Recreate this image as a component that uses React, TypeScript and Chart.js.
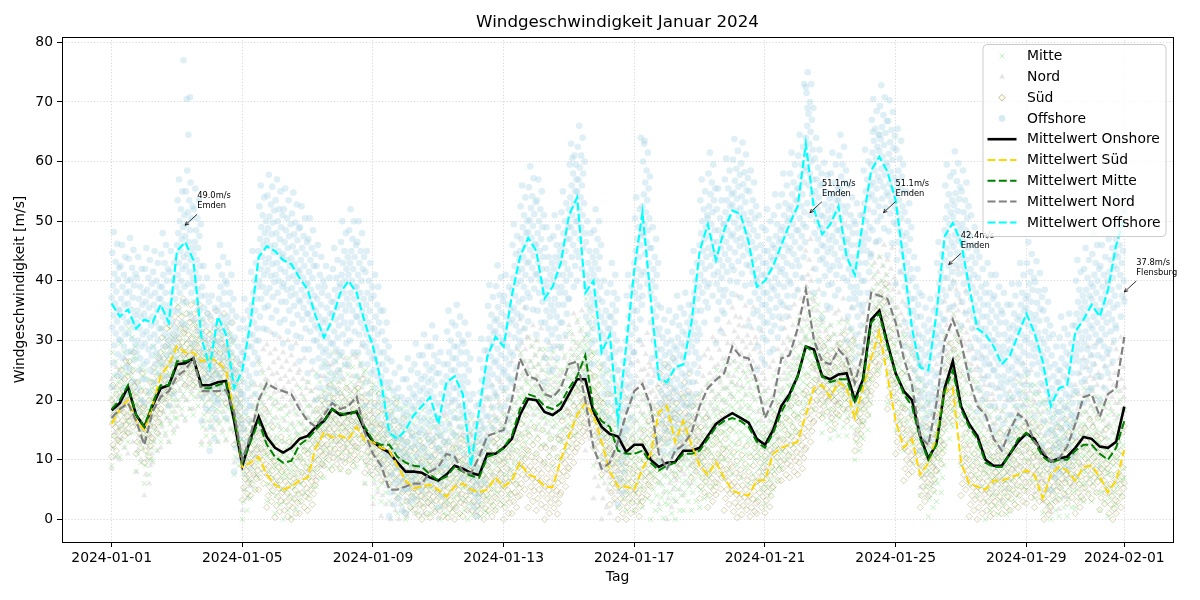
import { useEffect, useRef } from "react";
import { Chart, registerables } from "chart.js";

Chart.register(...registerables);

const FONT = '"DejaVu Sans", "Liberation Sans", sans-serif';
const START_MS = Date.UTC(2024, 0, 1);
const STEPS_PER_DAY = 4; // 6-hour resolution

// Regional means [m/s], 6-hourly from 2024-01-01 00:00 to 2024-02-01 00:00
const mittelwertOnshore = [
  18.3, 19.5, 22.2, 17.5, 15.5, 19.0, 22.0, 22.5, 26.0, 26.2, 27.0, 22.5,
  22.5, 23.0, 23.2, 16.5, 9.0, 13.5, 17.2, 13.8, 12.0, 11.2, 12.0, 13.5,
  14.0, 15.5, 16.5, 18.5, 17.5, 17.8, 18.0, 15.0, 13.0, 12.0, 11.2, 9.5,
  8.0, 8.0, 7.8, 7.0, 6.5, 7.5, 9.0, 8.5, 7.8, 7.4, 11.0, 11.0,
  12.0, 13.5, 17.5, 20.2, 20.0, 18.0, 17.5, 18.5, 21.0, 23.5, 23.5, 18.0,
  15.5, 14.3, 13.9, 11.3, 12.5, 12.5, 10.0, 8.8, 9.5, 9.6, 11.5, 11.5,
  12.0, 14.0, 16.0, 17.0, 17.8, 17.0, 16.2, 13.5, 12.5, 15.0, 19.0, 21.0,
  24.0, 29.0, 28.5, 24.0, 23.5, 24.3, 24.5, 20.0, 23.5, 33.5, 35.0, 29.5,
  24.5, 21.5, 20.0, 14.0, 10.2, 12.7, 22.0, 26.5, 19.0, 16.0, 14.0, 10.0,
  9.0, 9.0, 11.0, 13.0, 14.4, 13.5, 11.0, 9.7, 10.2, 10.5, 12.0, 13.8,
  13.5, 12.2, 12.0, 13.0, 18.9,
];

const mittelwertSued = [
  16.0, 18.5, 20.0, 16.5, 15.0, 19.0, 24.0, 26.0, 29.0, 28.0, 28.0, 26.5,
  27.0, 26.5, 25.0, 18.0, 8.8, 9.5, 10.5, 7.5, 5.8, 5.0, 5.5, 6.5,
  7.0, 12.0, 14.5, 13.8, 14.0, 13.5, 15.5, 13.3, 13.0, 12.0, 11.5, 9.0,
  6.5, 5.2, 5.5, 5.8, 5.0, 3.8, 5.5, 6.0, 5.0, 4.5, 5.0, 7.0,
  5.5, 6.5, 9.5, 7.5, 7.0, 5.5, 5.4, 10.0, 14.0, 17.5, 19.5, 17.5,
  13.0, 8.0, 5.5, 5.5, 5.0, 8.5, 11.0, 18.0, 19.0, 13.0, 16.5, 12.5,
  9.0, 7.5, 9.6, 7.0, 4.8, 4.3, 4.0, 6.5, 6.6, 11.0, 12.0, 12.5,
  13.0, 17.5, 22.0, 22.5, 20.5, 23.0, 22.0, 17.0, 22.0, 27.0, 31.5, 24.0,
  16.5, 12.0, 13.5, 7.5, 9.4, 13.8, 21.5, 22.0, 9.5, 6.0, 5.5, 5.0,
  6.5, 6.5, 7.0, 7.5, 8.2, 7.5, 3.5, 7.5, 8.8, 8.2, 6.5, 8.8,
  9.0, 7.1, 4.5, 6.5, 11.6,
];

const mittelwertMitte = [
  18.5, 20.0, 22.5, 17.5, 15.5, 19.5, 22.5, 22.5, 26.5, 26.5, 27.0, 22.0,
  22.0, 22.5, 23.0, 17.0, 9.5, 13.0, 16.5, 12.5, 10.5, 9.5, 9.8, 12.5,
  13.5, 15.0, 16.5, 18.5, 17.8, 17.5, 18.2, 15.5, 13.2, 12.5, 12.5, 10.5,
  9.5, 9.0, 8.8, 7.5, 6.5, 7.2, 8.8, 8.0, 7.3, 7.0, 10.5, 11.0,
  12.0, 14.0, 18.5, 21.0, 20.5, 19.0, 18.5, 19.5, 22.0, 24.0, 27.5, 18.5,
  16.5, 15.5, 11.5, 11.0, 11.0, 11.5, 9.5, 8.2, 9.0, 9.5, 11.0, 11.0,
  11.5, 13.5, 15.5, 16.5, 17.0, 16.5, 15.5, 13.0, 12.0, 14.5, 18.0, 20.5,
  24.0, 29.0, 28.0, 24.0, 23.0, 23.5, 23.5, 19.5, 23.0, 33.0, 34.5, 29.0,
  24.5, 21.0, 19.0, 13.5, 10.0, 12.5, 21.5, 25.0, 18.5, 15.5, 13.5, 9.5,
  8.8, 8.8, 11.0, 13.5, 14.5, 13.0, 10.5, 9.5, 10.0, 10.0, 11.5, 12.5,
  12.5, 11.0, 10.0, 12.0, 16.5,
];

const mittelwertNord = [
  17.0, 18.5, 19.5, 16.5, 12.5, 18.0, 20.5, 21.5, 24.0, 25.0, 27.0, 21.5,
  21.5, 21.5, 21.7, 18.0, 10.0, 14.0, 20.0, 22.8, 22.0, 21.5, 21.0, 18.5,
  16.5, 15.5, 17.5, 19.5, 18.5, 19.0, 20.6, 14.5, 11.0, 9.0, 5.0, 5.0,
  5.5, 6.0, 6.0, 8.0, 8.8, 11.0, 10.5, 8.0, 7.7, 10.5, 14.0, 14.5,
  15.0, 20.0, 27.0, 24.0, 23.5, 21.0, 20.5, 22.0, 26.0, 26.5, 20.0, 12.0,
  8.5, 9.5, 13.0, 17.7, 21.5, 22.7, 19.0, 11.0, 8.5, 11.5, 12.5, 14.5,
  19.0, 22.0, 23.4, 24.5, 29.0, 27.3, 27.0, 23.0, 17.0, 20.0, 27.0, 27.5,
  32.0, 38.5, 30.0, 26.5, 26.0, 28.5, 27.0, 22.8, 28.0, 38.0, 37.5, 37.0,
  33.0, 27.0, 22.5, 13.8, 12.5, 19.5, 30.0, 33.5, 29.8, 23.5, 19.0, 17.5,
  13.5, 11.5, 15.0, 17.7, 16.5, 13.0, 11.5, 9.7, 10.2, 12.2, 16.0, 20.5,
  21.0, 17.2, 21.0, 22.0, 30.6,
];

const mittelwertOffshore = [
  36.2, 34.0, 35.2, 32.0, 33.5, 33.0, 36.0, 33.0, 45.0, 46.5, 43.5, 30.5,
  25.5, 34.0, 31.0, 22.0, 25.0, 33.0, 44.0, 45.8, 45.0, 43.5, 42.8, 40.5,
  38.5, 34.0, 30.5, 33.5, 38.0, 40.0, 38.0, 33.0, 29.0, 23.0, 14.5, 13.5,
  15.0, 17.5, 19.0, 20.5, 16.0, 23.0, 24.0, 21.0, 9.0, 18.3, 27.3, 30.6,
  29.0, 37.5, 44.0, 47.2, 45.0, 37.0, 39.0, 43.0, 51.0, 54.0, 38.0, 40.0,
  28.0, 31.0, 16.5, 29.0, 42.0, 51.5, 37.0, 23.5, 23.0, 25.5, 26.0, 33.0,
  45.0, 49.5, 43.5, 48.5, 51.8, 51.2, 46.5, 39.0, 40.0, 42.5, 46.0, 49.5,
  52.5, 63.0, 52.0, 47.8, 49.5, 52.5, 44.0, 41.0, 50.0, 58.5, 60.8, 58.3,
  53.5, 43.0, 32.0, 25.5, 25.0, 34.5, 47.5, 49.7, 46.5, 39.0, 32.0, 31.0,
  29.0, 26.0, 27.5, 31.0, 34.5, 31.3, 26.5, 19.0, 22.0, 22.5, 31.5, 33.5,
  36.0, 34.0, 38.5, 46.0, 50.5,
];

// Station deviations from their regional mean [m/s]
const abweichungMitte = [
  -9.5, -8, -6.5, -5.5, -4.5, -3.5, -2.5, -1.8, -1, -0.3,
  0.4, 1.1, 1.8, 2.6, 3.5, 4.5, 5.5, 6.5, 8, 9.5,
];
const abweichungNord = [-8.5, -6.5, -5, -3.5, -2.5, -1.5, -0.5, 0.5, 1.5, 2.5, 3.5, 5, 6.5, 8.5];
const abweichungSued = [-5.5, -4.5, -3.5, -2.7, -2, -1.3, -0.6, 0, 0.7, 1.4, 2.2, 3, 4, 5, 6.5, 8];
const abweichungOffshore = [
  -14, -12, -10, -8.5, -7, -6, -5, -4, -3, -2, -1, 0,
  1, 2, 3, 4, 5, 6, 7, 8.5, 10, 12,
];

// Single offshore gusts well above the cloud [day, m/s]
const offshoreSpitzenTag = [2.2, 2.3, 2.4, 2.35, 14.1, 14.2, 16.2, 16.3, 21.2, 21.25, 21.3, 23.3, 23.5];
const offshoreSpitzenWert = [77.0, 70.5, 70.8, 64.5, 60.6, 59.5, 64.0, 63.0, 73.0, 72.5, 69.0, 65.0, 64.5];

// Annotated station maxima
const maxTag = [2.25, 21.375, 23.625, 25.625, 31.0];
const maxWert = [49.0, 51.1, 51.1, 42.4, 37.8];
const maxStation = ["Emden", "Emden", "Emden", "Emden", "Flensburg"];

const xTickTage = [0, 4, 8, 12, 16, 20, 24, 28, 31];
const yTickWerte = [0, 10, 20, 30, 40, 50, 60, 70, 80];

const zeiten = mittelwertOnshore.map((_, i) => i / STEPS_PER_DAY);

const alsLinie = (werte: number[]) => werte.map((y, i) => ({ x: zeiten[i], y }));

// each station reports at its own half-hour slot within the 6-hour step
function stationsWolke(mittel: number[], abweichung: number[]) {
  const punkte: { x: number; y: number }[] = [];
  abweichung.forEach((off, k) => {
    const versatz = ((k * 7) % 12) / 48;
    mittel.forEach((m, i) => {
      const x = zeiten[i] + versatz;
      const y = m + off;
      if (x <= 31 && y >= 0) punkte.push({ x, y });
    });
  });
  return punkte;
}

const tagLabel = (d: number) =>
  new Date(START_MS + Math.round(d * 86400000)).toISOString().slice(0, 10);

type Style = {
  kind: "point" | "line";
  pointStyle?: string;
  fill?: string;
  stroke?: string;
  strokeWidth?: number;
  color?: string;
  width?: number;
  dash?: number[];
};

function markerPath(ctx: CanvasRenderingContext2D, style: string, x: number, y: number, r: number) {
  ctx.beginPath();
  if (style === "circle") {
    ctx.arc(x, y, r, 0, Math.PI * 2);
  } else if (style === "triangle") {
    ctx.moveTo(x, y - r);
    ctx.lineTo(x + r * 0.87, y + r * 0.5);
    ctx.lineTo(x - r * 0.87, y + r * 0.5);
    ctx.closePath();
  } else if (style === "rectRot") {
    ctx.moveTo(x, y - r);
    ctx.lineTo(x + r, y);
    ctx.lineTo(x, y + r);
    ctx.lineTo(x - r, y);
    ctx.closePath();
  } else if (style === "crossRot") {
    const d = r * 0.75;
    ctx.moveTo(x - d, y - d);
    ctx.lineTo(x + d, y + d);
    ctx.moveTo(x + d, y - d);
    ctx.lineTo(x - d, y + d);
  }
}

const legendeEintraege: { label: string; style: Style }[] = [
  { label: "Mitte", style: { kind: "point", pointStyle: "crossRot", stroke: "rgba(144,238,144,0.6)", strokeWidth: 1 } },
  { label: "Nord", style: { kind: "point", pointStyle: "triangle", fill: "rgba(211,211,211,0.6)" } },
  { label: "Süd", style: { kind: "point", pointStyle: "rectRot", fill: "rgba(255,250,205,0.6)", stroke: "rgba(105,105,80,0.55)", strokeWidth: 0.8 } },
  { label: "Offshore", style: { kind: "point", pointStyle: "circle", fill: "rgba(173,216,230,0.5)" } },
  { label: "Mittelwert Onshore", style: { kind: "line", color: "#000000", width: 2.6 } },
  { label: "Mittelwert Süd", style: { kind: "line", color: "#FFD700", width: 2, dash: [8, 3.3] } },
  { label: "Mittelwert Mitte", style: { kind: "line", color: "#008000", width: 2, dash: [8, 3.3] } },
  { label: "Mittelwert Nord", style: { kind: "line", color: "#808080", width: 2, dash: [8, 3.3] } },
  { label: "Mittelwert Offshore", style: { kind: "line", color: "#00FFFF", width: 2, dash: [8, 3.3] } },
];

const overlayPlugin = {
  id: "overlay",
  afterDatasetsDraw(chart: any) {
    const { ctx, chartArea: a, scales } = chart;
    ctx.save();

    // station maxima with arrows
    ctx.font = `8.3px ${FONT}`;
    ctx.fillStyle = "#000";
    ctx.strokeStyle = "#000";
    ctx.textAlign = "left";
    ctx.textBaseline = "middle";
    maxTag.forEach((d, i) => {
      const px = scales.x.getPixelForValue(d);
      const py = scales.y.getPixelForValue(maxWert[i]) - 2;
      const sx = px + 12;
      const sy = py - 11;
      ctx.lineWidth = 0.8;
      ctx.beginPath();
      ctx.moveTo(sx, sy);
      ctx.lineTo(px, py);
      const ang = Math.atan2(py - sy, px - sx);
      const h = 4;
      ctx.moveTo(px, py);
      ctx.lineTo(px - h * Math.cos(ang - 0.45), py - h * Math.sin(ang - 0.45));
      ctx.moveTo(px, py);
      ctx.lineTo(px - h * Math.cos(ang + 0.45), py - h * Math.sin(ang + 0.45));
      ctx.stroke();
      ctx.fillText(`${maxWert[i].toFixed(1)}m/s`, px + 12, py - 29);
      ctx.fillText(maxStation[i], px + 12, py - 19);
    });

    // axes frame
    ctx.setLineDash([]);
    ctx.lineWidth = 1;
    ctx.strokeStyle = "#000";
    const l = Math.round(a.left) + 0.5;
    const t = Math.round(a.top) + 0.5;
    const r = Math.round(a.right) + 0.5;
    const b = Math.round(a.bottom) + 0.5;
    ctx.strokeRect(l, t, r - l, b - t);

    // legend
    const bw = 183;
    const bh = 192;
    const bx = a.right - 7 - bw;
    const by = a.top + 7.5;
    ctx.beginPath();
    ctx.roundRect(bx, by, bw, bh, 4);
    ctx.fillStyle = "rgba(255,255,255,0.8)";
    ctx.fill();
    ctx.strokeStyle = "#cccccc";
    ctx.lineWidth = 1;
    ctx.stroke();

    ctx.font = `13.9px ${FONT}`;
    ctx.textAlign = "left";
    ctx.textBaseline = "middle";
    legendeEintraege.forEach((e, i) => {
      const cy = by + 11.5 + i * 20.8;
      const s = e.style;
      if (s.kind === "line") {
        ctx.beginPath();
        ctx.setLineDash(s.dash || []);
        ctx.strokeStyle = s.color!;
        ctx.lineWidth = s.width!;
        ctx.moveTo(bx + 4.5, cy);
        ctx.lineTo(bx + 33.5, cy);
        ctx.stroke();
        ctx.setLineDash([]);
      } else {
        markerPath(ctx, s.pointStyle!, bx + 19, cy, 3.3);
        if (s.fill) {
          ctx.fillStyle = s.fill;
          ctx.fill();
        }
        if (s.stroke) {
          ctx.strokeStyle = s.stroke;
          ctx.lineWidth = s.strokeWidth || 1;
          ctx.stroke();
        }
      }
      ctx.fillStyle = "#000";
      ctx.fillText(e.label, bx + 44, cy + 0.5);
    });

    ctx.restore();
  },
  afterDraw(chart: any) {
    const { ctx, chartArea: a } = chart;
    ctx.save();
    ctx.fillStyle = "#000";
    ctx.textAlign = "center";
    ctx.textBaseline = "middle";
    const cx = (a.left + a.right) / 2;
    ctx.font = `16.7px ${FONT}`;
    ctx.fillText("Windgeschwindigkeit Januar 2024", cx, 23);
    ctx.font = `13.9px ${FONT}`;
    ctx.fillText("Tag", cx, 577);
    ctx.translate(20, (a.top + a.bottom) / 2);
    ctx.rotate(-Math.PI / 2);
    ctx.fillText("Windgeschwindigkeit [m/s]", 0, 0);
    ctx.restore();
  },
};

function buildChart(canvas: HTMLCanvasElement) {
  const datasets: any[] = [
    {
      label: "Mitte",
      type: "scatter",
      data: stationsWolke(mittelwertMitte, abweichungMitte),
      pointStyle: "crossRot",
      pointRadius: 3.5,
      pointBorderColor: "rgba(130,232,130,0.5)",
      pointBackgroundColor: "rgba(130,232,130,0.5)",
      pointBorderWidth: 1,
    },
    {
      label: "Nord",
      type: "scatter",
      data: stationsWolke(mittelwertNord, abweichungNord),
      pointStyle: "triangle",
      pointRadius: 3.6,
      pointBackgroundColor: "rgba(211,211,211,0.5)",
      pointBorderWidth: 0,
    },
    {
      label: "Süd",
      type: "scatter",
      data: stationsWolke(mittelwertSued, abweichungSued),
      pointStyle: "rectRot",
      pointRadius: 3.2,
      pointBackgroundColor: "rgba(255,250,205,0.3)",
      pointBorderColor: "rgba(105,105,80,0.35)",
      pointBorderWidth: 0.8,
    },
    {
      label: "Offshore",
      type: "scatter",
      data: [
        ...stationsWolke(mittelwertOffshore, abweichungOffshore),
        ...offshoreSpitzenTag.map((x, i) => ({ x, y: offshoreSpitzenWert[i] })),
      ],
      pointStyle: "circle",
      pointRadius: 3.3,
      pointBackgroundColor: "rgba(173,216,230,0.4)",
      pointBorderWidth: 0,
    },
    {
      label: "Mittelwert Onshore",
      type: "line",
      data: alsLinie(mittelwertOnshore),
      borderColor: "#000000",
      borderWidth: 2.6,
    },
    {
      label: "Mittelwert Süd",
      type: "line",
      data: alsLinie(mittelwertSued),
      borderColor: "#FFD700",
      borderWidth: 2,
      borderDash: [8, 3.3],
    },
    {
      label: "Mittelwert Mitte",
      type: "line",
      data: alsLinie(mittelwertMitte),
      borderColor: "#008000",
      borderWidth: 2,
      borderDash: [8, 3.3],
    },
    {
      label: "Mittelwert Nord",
      type: "line",
      data: alsLinie(mittelwertNord),
      borderColor: "#808080",
      borderWidth: 2.2,
      borderDash: [8, 3.3],
    },
    {
      label: "Mittelwert Offshore",
      type: "line",
      data: alsLinie(mittelwertOffshore),
      borderColor: "#00FFFF",
      borderWidth: 2.2,
      borderDash: [8, 3.3],
    },
  ];
  datasets.forEach((ds, i) => {
    ds.order = datasets.length - i;
    if (ds.type === "line") {
      ds.pointRadius = 0;
      ds.tension = 0;
      ds.fill = false;
    }
  });

  const tickFont = { family: FONT, size: 13.9 };
  const gridOpts = {
    color: "rgba(190,190,190,0.75)",
    lineWidth: 0.8,
    tickColor: "#000",
    tickLength: 5,
    tickWidth: 1,
  };

  return new Chart(canvas, {
    type: "scatter",
    data: { datasets },
    options: {
      responsive: false,
      animation: false,
      events: [],
      layout: { padding: { top: 37, right: 27, left: 0, bottom: 0 } },
      plugins: {
        legend: { display: false },
        title: { display: false },
        tooltip: { enabled: false },
      },
      scales: {
        x: {
          type: "linear",
          min: -1.52,
          max: 32.49,
          afterBuildTicks: (s: any) => {
            s.ticks = xTickTage.map((v) => ({ value: v }));
          },
          afterFit: (s: any) => {
            s.height = 58;
          },
          ticks: {
            callback: (v: any) => tagLabel(Number(v)),
            font: tickFont,
            color: "#000",
            maxRotation: 0,
            minRotation: 0,
            autoSkip: false,
            padding: 3,
          },
          grid: gridOpts,
          border: { display: false, dash: [1.2, 2] },
        },
        y: {
          type: "linear",
          min: -3.8,
          max: 80.9,
          afterBuildTicks: (s: any) => {
            s.ticks = yTickWerte.map((v) => ({ value: v }));
          },
          afterFit: (s: any) => {
            s.width = 62;
          },
          ticks: {
            callback: (v: any) => String(v),
            font: tickFont,
            color: "#000",
            padding: 4,
          },
          grid: gridOpts,
          border: { display: false, dash: [1.2, 2] },
        },
      },
    } as any,
    plugins: [overlayPlugin],
  });
}

export default function App() {
  const canvasRef = useRef<HTMLCanvasElement>(null);
  useEffect(() => {
    if (!canvasRef.current) return;
    const chart = buildChart(canvasRef.current);
    return () => chart.destroy();
  }, []);
  return (
    <div style={{ position: "fixed", left: 0, top: 0, width: 1200, height: 600, background: "#ffffff" }}>
      <canvas ref={canvasRef} width={1200} height={600} style={{ display: "block", width: 1200, height: 600 }} />
    </div>
  );
}
